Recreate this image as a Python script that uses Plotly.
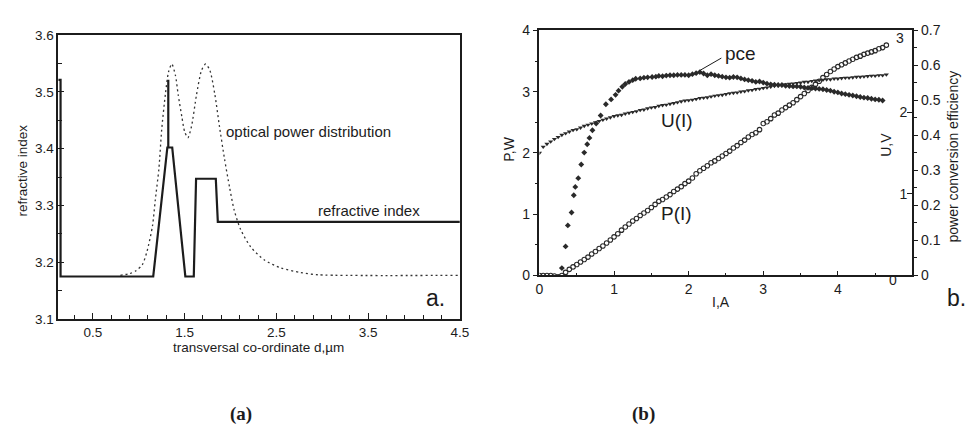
import plotly.graph_objects as go

W, H = 977, 434


def px(x):
    return x / W


def py(y):
    return 1 - y / H


# ---------------- Panel (a): refractive index profile ----------------
ri_x = [0.123, 0.148, 0.148, 1.158, 1.312, 1.322, 1.322, 1.322, 1.365, 1.508,
        1.600, 1.625, 1.840, 1.862, 4.5]
ri_y = [3.521, 3.521, 3.175, 3.175, 3.402, 3.402, 3.521, 3.402, 3.402, 3.175,
        3.175, 3.347, 3.347, 3.271, 3.271]

opd_x = [0.80, 0.90, 0.97, 1.04, 1.09, 1.15, 1.18, 1.22, 1.25, 1.29, 1.325, 1.36,
         1.40, 1.43, 1.47, 1.50, 1.535, 1.575, 1.63, 1.685, 1.73, 1.775, 1.83,
         1.88, 1.935, 1.99, 2.04, 2.11, 2.22, 2.37, 2.55, 2.76, 2.95, 4.5]
opd_y = [3.177, 3.180, 3.185, 3.196, 3.219, 3.264, 3.309, 3.365, 3.433, 3.495,
         3.535, 3.549, 3.529, 3.495, 3.456, 3.430, 3.419, 3.439, 3.495, 3.538,
         3.549, 3.538, 3.495, 3.439, 3.382, 3.332, 3.292, 3.258, 3.227, 3.204,
         3.190, 3.182, 3.178, 3.177]

a_xticks = [0.5, 1.5, 2.5, 3.5, 4.5]
a_yticks = [3.1, 3.2, 3.3, 3.4, 3.5, 3.6]

# ---------------- Panel (b): P(I), U(I), pce ----------------
current = [0.00, 0.05, 0.10, 0.15, 0.20, 0.25, 0.30, 0.35, 0.40, 0.45,
           0.50, 0.55, 0.60, 0.65, 0.70, 0.75, 0.80, 0.85, 0.90, 0.95,
           1.00, 1.05, 1.10, 1.15, 1.20, 1.25, 1.30, 1.35, 1.40, 1.45,
           1.50, 1.55, 1.60, 1.65, 1.70, 1.75, 1.80, 1.85, 1.90, 1.95,
           2.00, 2.05, 2.10, 2.15, 2.20, 2.25, 2.30, 2.35, 2.40, 2.45,
           2.50, 2.55, 2.60, 2.65, 2.70, 2.75, 2.80, 2.85, 2.90, 2.95,
           3.00, 3.05, 3.10, 3.15, 3.20, 3.25, 3.30, 3.35, 3.40, 3.45,
           3.50, 3.55, 3.60, 3.65, 3.70, 3.75, 3.80, 3.85, 3.90, 3.95,
           4.00, 4.05, 4.10, 4.15, 4.20, 4.25, 4.30, 4.35, 4.40, 4.45,
           4.50, 4.55, 4.60, 4.65]
power = [0.00, 0.00, 0.00, 0.00, -0.01, -0.02, 0.00, 0.05, 0.10, 0.14,
         0.18, 0.22, 0.26, 0.30, 0.35, 0.39, 0.44, 0.48, 0.53, 0.58,
         0.63, 0.68, 0.74, 0.79, 0.84, 0.89, 0.93, 0.98, 1.02, 1.06,
         1.11, 1.16, 1.21, 1.24, 1.28, 1.32, 1.37, 1.41, 1.45, 1.50,
         1.54, 1.59, 1.66, 1.71, 1.75, 1.79, 1.84, 1.87, 1.91, 1.95,
         1.99, 2.03, 2.08, 2.12, 2.17, 2.21, 2.26, 2.30, 2.33, 2.38,
         2.48, 2.51, 2.56, 2.62, 2.65, 2.70, 2.74, 2.78, 2.82, 2.87,
         2.92, 2.97, 3.02, 3.07, 3.12, 3.17, 3.23, 3.28, 3.33, 3.37,
         3.41, 3.44, 3.47, 3.50, 3.53, 3.56, 3.58, 3.61, 3.63, 3.65,
         3.67, 3.70, 3.72, 3.76]
voltage = [1.500, 1.575, 1.610, 1.640, 1.670, 1.695, 1.720, 1.740, 1.760, 1.780,
           1.790, 1.810, 1.830, 1.845, 1.860, 1.875, 1.890, 1.905, 1.920, 1.935,
           1.950, 1.960, 1.965, 1.980, 1.990, 2.000, 2.010, 2.025, 2.030, 2.045,
           2.055, 2.060, 2.075, 2.085, 2.090, 2.100, 2.110, 2.120, 2.130, 2.140,
           2.145, 2.150, 2.160, 2.170, 2.175, 2.180, 2.190, 2.200, 2.205, 2.210,
           2.220, 2.230, 2.235, 2.240, 2.250, 2.255, 2.265, 2.270, 2.280, 2.285,
           2.295, 2.300, 2.310, 2.320, 2.325, 2.330, 2.340, 2.345, 2.350, 2.355,
           2.360, 2.370, 2.370, 2.380, 2.385, 2.390, 2.395, 2.400, 2.400, 2.410,
           2.410, 2.415, 2.420, 2.420, 2.425, 2.430, 2.430, 2.435, 2.440, 2.445,
           2.445, 2.450, 2.450, 2.460]

pce_current = [0.30, 0.35, 0.38, 0.43, 0.46, 0.48, 0.52, 0.56, 0.60, 0.64,
               0.67, 0.71, 0.76, 0.82, 0.89, 0.96, 1.02, 1.06, 1.11, 1.15,
               1.20, 1.25, 1.29, 1.35, 1.40, 1.45, 1.51, 1.56, 1.60, 1.65,
               1.70, 1.75, 1.80, 1.85, 1.90, 1.95, 2.00, 2.05, 2.10, 2.15,
               2.20, 2.25, 2.30, 2.35, 2.40, 2.45, 2.50, 2.55, 2.60, 2.65,
               2.70, 2.75, 2.80, 2.85, 2.90, 2.95, 3.00, 3.05, 3.10, 3.15,
               3.20, 3.25, 3.30, 3.35, 3.40, 3.45, 3.50, 3.55, 3.60, 3.65,
               3.70, 3.75, 3.80, 3.85, 3.90, 3.95, 4.00, 4.05, 4.10, 4.15,
               4.20, 4.25, 4.30, 4.35, 4.40, 4.45, 4.50, 4.55, 4.60]
pce = [0.021, 0.083, 0.143, 0.180, 0.229, 0.253, 0.278, 0.317, 0.351, 0.375,
       0.393, 0.415, 0.434, 0.457, 0.489, 0.503, 0.516, 0.528, 0.539, 0.547,
       0.553, 0.558, 0.562, 0.563, 0.565, 0.566, 0.567, 0.568, 0.570, 0.569,
       0.571, 0.572, 0.572, 0.573, 0.573, 0.573, 0.572, 0.575, 0.578, 0.581,
       0.577, 0.572, 0.575, 0.572, 0.570, 0.568, 0.566, 0.565, 0.567, 0.566,
       0.563, 0.560, 0.558, 0.556, 0.553, 0.554, 0.551, 0.548, 0.546, 0.545,
       0.544, 0.544, 0.542, 0.541, 0.540, 0.540, 0.539, 0.537, 0.536, 0.535,
       0.534, 0.533, 0.532, 0.530, 0.528, 0.525, 0.523, 0.520, 0.518, 0.516,
       0.514, 0.512, 0.510, 0.508, 0.507, 0.505, 0.503, 0.502, 0.500]

b_xticks = [0, 1, 2, 3, 4, 5]
b_pticks = [0, 1, 2, 3, 4]
b_uticks = [1, 2]
b_pceticks = [0, 0.1, 0.2, 0.3, 0.4, 0.5, 0.6, 0.7]
b_pcetext = ["0", "0.1", "0.2", "0.3", "0.4", "0.5", "0.6", "0.7"]

INK = "#1c1c1c"
FONT = "Liberation Sans, Arial, sans-serif"

fig = go.Figure()

fig.add_trace(go.Scatter(x=opd_x, y=opd_y, mode="lines", xaxis="x", yaxis="y",
                         line=dict(color="#333333", width=1.3, dash="2px,3px",
                                   shape="spline", smoothing=0.7),
                         showlegend=False, hoverinfo="skip"))
fig.add_trace(go.Scatter(x=ri_x, y=ri_y, mode="lines", xaxis="x", yaxis="y",
                         line=dict(color=INK, width=2.2),
                         showlegend=False, hoverinfo="skip"))

fig.add_trace(go.Scatter(x=current, y=power, mode="markers", xaxis="x2", yaxis="y2",
                         marker=dict(symbol="circle-open", size=4.5, color="#2a2a2a",
                                     line=dict(width=1.1, color="#2a2a2a")),
                         showlegend=False))
fig.add_trace(go.Scatter(x=current, y=voltage, mode="markers", xaxis="x2", yaxis="y3",
                         marker=dict(symbol="triangle-down", size=4.5, color="#2a2a2a"),
                         showlegend=False))
fig.add_trace(go.Scatter(x=pce_current, y=pce, mode="markers", xaxis="x2", yaxis="y4",
                         marker=dict(symbol="diamond", size=4.5, color="#2a2a2a"),
                         showlegend=False))

axis_common = dict(showgrid=False, zeroline=False, showline=True, linecolor=INK,
                   tickcolor=INK)
fa = dict(family=FONT, size=13.5, color=INK)
fb = dict(family=FONT, size=14, color=INK)

fig.update_layout(
    width=W, height=H,
    margin=dict(l=0, r=0, t=0, b=0),
    paper_bgcolor="white", plot_bgcolor="white",
    showlegend=False,
    xaxis=dict(**axis_common, tickfont=fa, domain=[px(55), px(462)], range=[0.123, 4.5],
               tickvals=a_xticks, ticks="inside", ticklen=6, linewidth=1.5,
               mirror=True, anchor="y",
               minor=dict(ticks="inside", ticklen=4, dtick=0.2, tick0=0.5, tickcolor=INK)),
    yaxis=dict(**axis_common, tickfont=fa, domain=[py(323), py(28)], range=[3.1, 3.6],
               tickvals=a_yticks, tickformat=".1f", ticks="inside", ticklen=6,
               linewidth=1.5, mirror=True, anchor="x",
               minor=dict(ticks="inside", ticklen=4, dtick=0.05, tick0=3.1, tickcolor=INK)),
    xaxis2=dict(**axis_common, tickfont=fb, domain=[px(542.7), px(920.7)], range=[0, 5],
                tickvals=b_xticks, ticks="inside", ticklen=5, linewidth=1.5,
                mirror=True, anchor="y2",
                minor=dict(ticks="inside", ticklen=3, dtick=0.5, tick0=0, tickcolor=INK)),
    yaxis2=dict(**axis_common, tickfont=fb, domain=[py(277.7), py(23.3)], range=[0, 4],
                tickvals=b_pticks, ticks="outside", ticklen=5, linewidth=1.5,
                anchor="x2",
                minor=dict(ticks="outside", ticklen=3, dtick=0.5, tick0=0, tickcolor=INK)),
    yaxis3=dict(**axis_common, tickfont=fb, overlaying="y2", side="right", anchor="x2",
                range=[0, 3], tickvals=b_uticks, ticks="inside", ticklen=5,
                ticklabelposition="inside"),
    yaxis4=dict(**axis_common, tickfont=fb, overlaying="y2", side="right", anchor="x2",
                range=[0, 0.7], tickvals=b_pceticks, ticktext=b_pcetext,
                ticks="outside", ticklen=4, linewidth=1.5,
                minor=dict(ticks="outside", ticklen=3, dtick=0.05, tick0=0, tickcolor=INK)),
)
fig.update_layout(yaxis3=dict(showline=False))


def note(text, x, y, size=13, angle=0, xanchor="center", family=FONT, bold=False):
    if bold:
        text = "<b>" + text + "</b>"
    fig.add_annotation(text=text, x=px(x), y=py(y), xref="paper", yref="paper",
                       showarrow=False, textangle=angle, xanchor=xanchor,
                       yanchor="middle", font=dict(family=family, size=size, color=INK))


# panel (a) texts
note("refractive index", 19, 169, size=13.5, angle=-90)
note("transversal co-ordinate d,\u00b5m", 258, 352, size=13.5)
note("optical power distribution", 223, 128, size=15, xanchor="left")
note("refractive index", 316, 210, size=15, xanchor="left")
note("a.", 437, 301, size=23)

# panel (b) texts
note("P,W", 511, 147, size=14, angle=-90)
note("I,A", 727, 305, size=14)
note("U,V", 894, 142, size=14, angle=-90)
note("power conversion efficiency", 962, 154, size=14, angle=-90)
note("U(I)", 682, 117, size=19)
note("P(I)", 682, 213, size=19)
note("pce", 746, 47, size=19)
note("3", 908, 31, size=14)
note("0", 901, 282, size=14)
note("b.", 965, 301, size=23)

fig.add_shape(type="line", xref="paper", yref="paper",
              x0=px(727), y0=py(52), x1=px(705), y1=py(65),
              line=dict(color=INK, width=1))

# captions
note("(a)", 240, 422, size=19, family="Liberation Serif, Times New Roman, serif", bold=True)
note("(b)", 648, 422, size=19, family="Liberation Serif, Times New Roman, serif", bold=True)

fig.write_html("out.html")
